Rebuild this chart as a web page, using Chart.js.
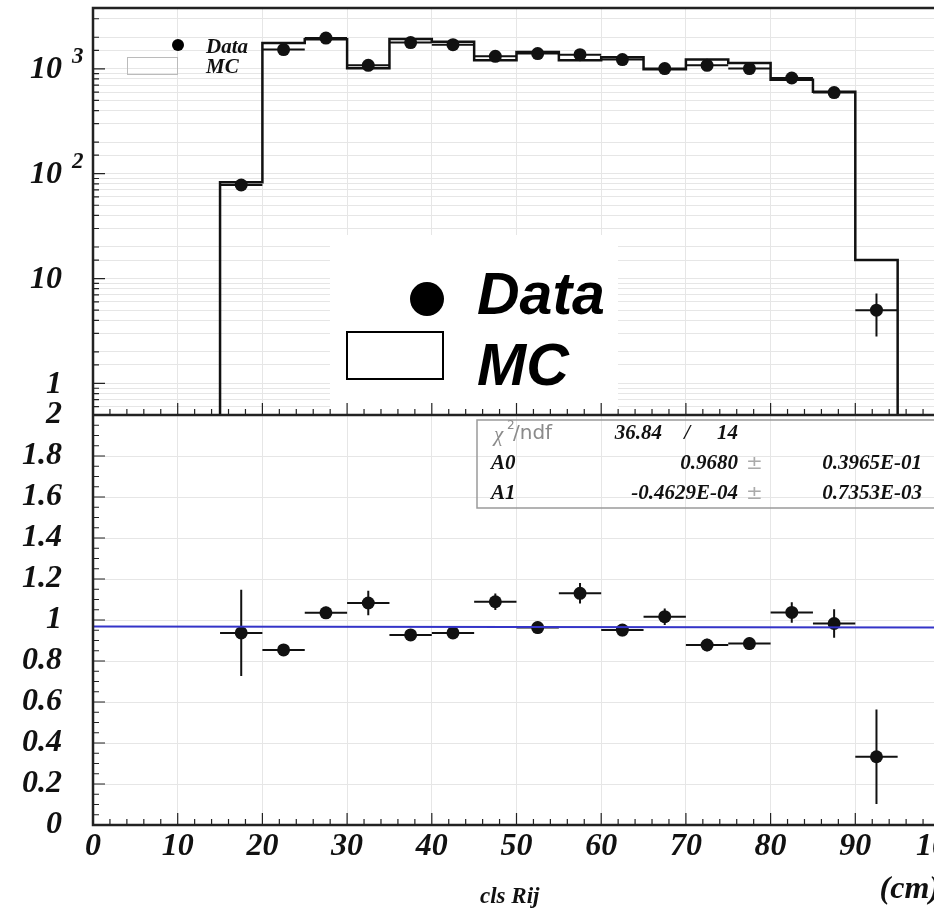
<!DOCTYPE html>
<html>
<head>
<meta charset="utf-8">
<script src="https://cdn.jsdelivr.net/npm/chart.js@4.4.1/dist/chart.umd.min.js"></script>
<style>
  html, body { margin: 0; padding: 0; background: #fff; overflow: hidden; }
  #wrap { position: absolute; left: 0; top: 0; width: 960px; height: 908px; }
</style>
</head>
<body>
<div id="wrap"><canvas id="chart" width="960" height="908"></canvas></div>
<script>
// bins of "cls Rij" (cm), 5 cm wide
const binCenters = [17.5, 22.5, 27.5, 32.5, 37.5, 42.5, 47.5, 52.5, 57.5, 62.5, 67.5, 72.5, 77.5, 82.5, 87.5, 92.5];
const binWidth = 5;

// top panel: counts
const dataCounts = [78, 1524, 1963, 1079, 1779, 1700, 1315, 1396, 1365, 1224, 1005, 1079, 1005, 817, 593, 5];
const dataErrors = [9, 39, 44, 33, 42, 41, 36, 37, 37, 35, 32, 33, 32, 29, 24, 2.2];
const mcCounts = [83, 1762, 1909, 1012, 1919, 1814, 1208, 1450, 1208, 1287, 989, 1229, 1136, 788, 603, 15];

// bottom panel: Data / MC
const ratioValues = [0.937, 0.854, 1.035, 1.083, 0.927, 0.937, 1.089, 0.963, 1.13, 0.951, 1.016, 0.878, 0.885, 1.037, 0.983, 0.333];
const ratioErrors = [0.21, 0.02, 0.03, 0.06, 0.02, 0.03, 0.04, 0.03, 0.05, 0.03, 0.04, 0.03, 0.03, 0.05, 0.07, 0.23];

// straight line fit A0 + A1*x
const fitX = [0, 100];
const fitY = [0.968, 0.9634];

const logTickValues = [1, 10, 100, 1000];
const logTickExps = ['', '', '2', '3'];
const statsRows = [
    ['A0', '0.9680', '0.3965E-01'],
    ['A1', '-0.4629E-04', '0.7353E-03']
];
const chi2Text = '36.84';
const ndfText = '14';

const topMin = 0.5;
const topMax = 3800;
const ink = '#111';
const gridColor = '#e6e6e6';
const serif = '"Liberation Serif", "DejaVu Serif", serif';

function mcStepPoints() {
    const pts = [{ x: binCenters[0] - binWidth / 2, y: topMin }];
    binCenters.forEach((c, i) => pts.push({ x: c - binWidth / 2, y: mcCounts[i] }));
    const last = binCenters.length - 1;
    pts.push({ x: binCenters[last] + binWidth / 2, y: mcCounts[last] });
    pts.push({ x: binCenters[last] + binWidth / 2, y: topMin });
    return pts;
}

function noPadding(s) {
    s.paddingTop = 0;
    s.paddingBottom = 0;
    s.paddingLeft = 0;
    s.paddingRight = 0;
}

const errorBars = {
    id: 'errorBars',
    beforeDatasetsDraw(chart) {
        const { ctx, scales } = chart;
        const x = scales.x, yt = scales.yTop, yl = scales.yLow;
        ctx.save();
        ctx.strokeStyle = ink;
        ctx.lineWidth = 2;
        binCenters.forEach((c, i) => {
            const px = x.getPixelForValue(c);
            const xl = x.getPixelForValue(c - binWidth / 2);
            const xr = x.getPixelForValue(c + binWidth / 2);

            const py = yt.getPixelForValue(dataCounts[i]);
            ctx.beginPath();
            ctx.moveTo(xl, py); ctx.lineTo(xr, py);
            ctx.moveTo(px, yt.getPixelForValue(dataCounts[i] + dataErrors[i]));
            ctx.lineTo(px, yt.getPixelForValue(dataCounts[i] - dataErrors[i]));
            ctx.stroke();

            const ry = yl.getPixelForValue(ratioValues[i]);
            ctx.beginPath();
            ctx.moveTo(xl, ry); ctx.lineTo(xr, ry);
            ctx.moveTo(px, yl.getPixelForValue(ratioValues[i] + ratioErrors[i]));
            ctx.lineTo(px, yl.getPixelForValue(ratioValues[i] - ratioErrors[i]));
            ctx.stroke();
        });
        ctx.restore();
    }
};

const rootDecor = {
    id: 'rootDecor',
    afterDraw(chart) {
        const { ctx, chartArea: a, scales } = chart;
        const x = scales.x, yt = scales.yTop, yl = scales.yLow;
        const split = yl.top;
        ctx.save();

        // big legend box
        ctx.fillStyle = '#fff';
        ctx.fillRect(330, 235, 288, split - 235);
        ctx.fillStyle = '#000';
        ctx.beginPath();
        ctx.arc(427, 299, 17, 0, Math.PI * 2);
        ctx.fill();
        ctx.strokeStyle = '#000';
        ctx.lineWidth = 2;
        ctx.strokeRect(347, 332, 96, 47);
        ctx.font = 'italic bold 59px "Liberation Sans", Arial, sans-serif';
        ctx.textBaseline = 'alphabetic';
        ctx.fillText('Data', 477, 314);
        ctx.fillText('MC', 477, 385);

        // small legend
        ctx.beginPath();
        ctx.arc(178, 45, 6, 0, Math.PI * 2);
        ctx.fill();
        ctx.strokeStyle = '#bbb';
        ctx.lineWidth = 1;
        ctx.strokeRect(127.5, 57.5, 50, 17);
        ctx.fillStyle = ink;
        ctx.font = 'italic bold 21px ' + serif;
        ctx.fillText('Data', 206, 53);
        ctx.fillText('MC', 206, 73);

        // frame and inner ticks
        ctx.strokeStyle = '#222';
        ctx.lineWidth = 2.5;
        ctx.strokeRect(a.left, a.top, a.right - a.left, a.bottom - a.top);
        ctx.beginPath();
        ctx.moveTo(a.left, split); ctx.lineTo(a.right, split);
        ctx.stroke();

        ctx.lineWidth = 1.2;
        ctx.beginPath();
        for (let v = 0; v <= 100; v += 2) {
            const px = x.getPixelForValue(v);
            const len = v % 10 === 0 ? 12 : 6;
            ctx.moveTo(px, a.bottom); ctx.lineTo(px, a.bottom - len);
            ctx.moveTo(px, split); ctx.lineTo(px, split - len);
        }
        for (let v = 0; v <= 2.0001; v += 0.05) {
            const py = yl.getPixelForValue(v);
            const len = Math.abs(v * 5 - Math.round(v * 5)) < 1e-6 ? 12 : 6;
            ctx.moveTo(a.left, py); ctx.lineTo(a.left + len, py);
        }
        yt.ticks.forEach(t => {
            const py = yt.getPixelForValue(t.value);
            const len = logTickValues.includes(t.value) ? 12 : 6;
            ctx.moveTo(a.left, py); ctx.lineTo(a.left + len, py);
        });
        ctx.stroke();

        // log axis labels with exponents
        ctx.fillStyle = ink;
        logTickValues.forEach((v, i) => {
            const py = yt.getPixelForValue(v);
            const base = i === 0 ? '1' : '10';
            ctx.font = 'italic bold 32px ' + serif;
            ctx.textAlign = 'right';
            ctx.textBaseline = 'middle';
            ctx.fillText(base, 62, py + 1);
            if (logTickExps[i]) {
                ctx.font = 'italic bold 23px ' + serif;
                ctx.textAlign = 'left';
                ctx.fillText(logTickExps[i], 72, py - 12);
            }
        });

        // fit statistics box
        ctx.strokeStyle = '#9a9a9a';
        ctx.lineWidth = 1.5;
        ctx.strokeRect(477, 420, 480, 88);
        ctx.textBaseline = 'middle';
        ctx.fillStyle = '#8a8a8a';
        ctx.textAlign = 'left';
        ctx.font = 'italic 21px ' + serif;
        ctx.fillText('\u03c7', 494, 435);
        ctx.font = '12px "DejaVu Sans", sans-serif';
        ctx.fillText('2', 507, 426);
        ctx.font = '20px "DejaVu Sans", sans-serif';
        ctx.fillText('/ndf', 513, 434);
        ctx.fillStyle = ink;
        ctx.font = 'italic bold 21px ' + serif;
        ctx.textAlign = 'right';
        ctx.fillText(chi2Text, 662, 434);
        ctx.fillText('/', 690, 434);
        ctx.fillText(ndfText, 738, 434);
        statsRows.forEach((row, i) => {
            const py = 464 + i * 30;
            ctx.fillStyle = ink;
            ctx.textAlign = 'left';
            ctx.fillText(row[0], 491, py);
            ctx.textAlign = 'right';
            ctx.fillText(row[1], 738, py);
            ctx.fillText(row[2], 922, py);
            ctx.fillStyle = '#aaa';
            ctx.textAlign = 'left';
            ctx.font = '20px "DejaVu Sans", sans-serif';
            ctx.fillText('\u00b1', 746, py);
            ctx.font = 'italic bold 21px ' + serif;
        });

        // axis titles
        ctx.fillStyle = ink;
        ctx.textBaseline = 'alphabetic';
        ctx.textAlign = 'left';
        ctx.font = 'italic bold 23px ' + serif;
        ctx.fillText('cls Rij', 480, 903);
        ctx.textAlign = 'right';
        ctx.font = 'italic bold 32px ' + serif;
        ctx.fillText('(cm)', 940, 898);

        ctx.restore();
    }
};

const tickFont = { family: serif, size: 32, weight: 'bold', style: 'italic' };

new Chart(document.getElementById('chart').getContext('2d'), {
    type: 'scatter',
    data: {
        datasets: [
            {
                type: 'line',
                label: 'MC',
                data: mcStepPoints(),
                yAxisID: 'yTop',
                stepped: 'before',
                borderColor: ink,
                borderWidth: 2.5,
                pointRadius: 0,
                fill: false
            },
            {
                label: 'Data',
                data: binCenters.map((c, i) => ({ x: c, y: dataCounts[i] })),
                yAxisID: 'yTop',
                pointRadius: 6.5,
                backgroundColor: ink,
                borderWidth: 0
            },
            {
                type: 'line',
                label: 'Fit',
                data: fitX.map((v, i) => ({ x: v, y: fitY[i] })),
                yAxisID: 'yLow',
                borderColor: '#3434c8',
                borderWidth: 2,
                pointRadius: 0,
                fill: false
            },
            {
                label: 'Data/MC',
                data: binCenters.map((c, i) => ({ x: c, y: ratioValues[i] })),
                yAxisID: 'yLow',
                pointRadius: 6.5,
                backgroundColor: ink,
                borderWidth: 0
            }
        ]
    },
    options: {
        responsive: false,
        animation: false,
        layout: { padding: { top: 8, right: 20, left: 0, bottom: 0 } },
        plugins: { legend: { display: false }, tooltip: { enabled: false } },
        scales: {
            x: {
                type: 'linear',
                min: 0,
                max: 100,
                border: { display: false },
                grid: { color: gridColor, drawTicks: false },
                ticks: { stepSize: 10, font: tickFont, color: ink, padding: 3, callback: v => String(v) },
                afterFit: s => { s.height = 83; noPadding(s); }
            },
            yLow: {
                type: 'linear',
                position: 'left',
                stack: 'panels',
                stackWeight: 410,
                min: 0,
                max: 2,
                border: { display: false },
                grid: { color: gridColor, drawTicks: false },
                ticks: {
                    stepSize: 0.2,
                    autoSkip: false,
                    font: tickFont,
                    color: ink,
                    padding: 31,
                    callback: v => String(+v.toFixed(1))
                },
                afterFit: s => { s.width = 93; noPadding(s); }
            },
            yTop: {
                type: 'logarithmic',
                position: 'left',
                stack: 'panels',
                stackWeight: 407,
                min: topMin,
                max: topMax,
                border: { display: false },
                grid: { color: gridColor, drawTicks: false },
                ticks: { display: false },
                afterFit: s => { s.width = 93; noPadding(s); }
            }
        }
    },
    plugins: [errorBars, rootDecor]
});
</script>
</body>
</html>
